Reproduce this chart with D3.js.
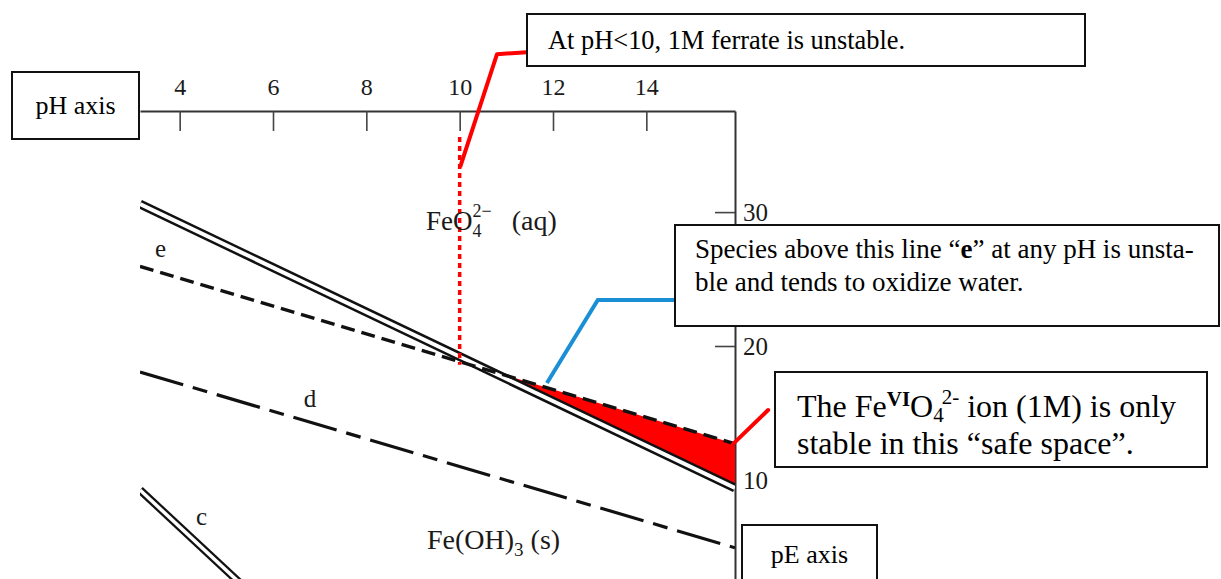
<!DOCTYPE html>
<html><head><meta charset="utf-8">
<script src="https://cdn.jsdelivr.net/npm/d3@7"></script>
<style>
html,body{margin:0;padding:0;background:#fff;}
svg{display:block;font-family:"Liberation Serif","Times New Roman",serif;}
</style></head><body>
<svg id="chart" width="1221" height="579"></svg>
<script>
// ---- data (pH, pE) ----
const pHTicks = [4, 6, 8, 10, 12, 14];
const pETicks = [10, 20, 30];
const pHDomain = [3.15, 15.9];
const pEDomain = [2.6, 37.55];
const lineFeO4 = [[3.15, 30.6], [15.9, 9.4]];    // FeO4 2- / Fe(OH)3 boundary (double line)
const lineE = [[3.15, 25.95], [15.9, 12.7]];      // water oxidation "e"
const lineD = [[3.15, 18.06], [15.9, 4.93]];      // water reduction "d"
const lineC = [[3.15, 9.25], [6.0, 0.0]];         // boundary "c" (double line)
const ph10Marker = [[10, 35.6], [10, 18.6]];
const leaderRed1 = [[10.01, 33.36], [10.80, 41.79], [11.44, 41.94]];
const leaderBlue = [[11.87, 17.24], [12.96, 23.43], [14.61, 23.43]];
const leaderRed2 = [[15.86, 12.69], [16.61, 15.22]];
const regionLabels = [
  {key: "feo4", pH: 9.28, pE: 28.66},
  {key: "feoh3", pH: 9.30, pE: 4.85},
  {key: "e", pH: 3.47, pE: 26.64},
  {key: "d", pH: 6.66, pE: 15.45},
  {key: "c", pH: 4.35, pE: 6.6}
];

const svg = d3.select("#chart");
const pL = 140, pR = 735, pT = 111, pB = 579;
const x = d3.scaleLinear().domain(pHDomain).range([pL, pR]);
const y = d3.scaleLinear().domain(pEDomain).range([pB, pT]);
const line = d3.line().x(d => x(d[0])).y(d => y(d[1]));

svg.append("defs").append("clipPath").attr("id", "plotClip")
  .append("rect").attr("x", pL).attr("y", pT).attr("width", pR - pL).attr("height", pB - pT);

// axes
const axTop = svg.append("g").attr("transform", `translate(0,${pT})`)
  .call(d3.axisTop(x).tickValues(pHTicks).tickSizeInner(-20).tickSizeOuter(0).tickPadding(16).tickFormat(d3.format("d")));
const axRight = svg.append("g").attr("transform", `translate(${pR},0)`)
  .call(d3.axisRight(y).tickValues(pETicks).tickSizeInner(-20).tickSizeOuter(0).tickPadding(8).tickFormat(d3.format("d")));
[axTop, axRight].forEach(a => {
  a.select(".domain").attr("stroke", "#333").attr("stroke-width", 2);
  a.selectAll(".tick line").attr("stroke", "#444").attr("stroke-width", 1.6);
  a.selectAll(".tick text").attr("fill", "#1a1a1a").style("font-family", "Liberation Serif, serif");
});
axTop.selectAll(".tick text").style("font-size", "24px");
axRight.selectAll(".tick text").style("font-size", "25px").attr("dy", "0.35em");

const plot = svg.append("g").attr("clip-path", "url(#plotClip)");

// red "safe space" fill between line e and FeO4 boundary
function lin(l, p) { return l[0][1] + (p - l[0][0]) * (l[1][1] - l[0][1]) / (l[1][0] - l[0][0]); }
const sE = (lineE[1][1] - lineE[0][1]) / (lineE[1][0] - lineE[0][0]);
const sF = (lineFeO4[1][1] - lineFeO4[0][1]) / (lineFeO4[1][0] - lineFeO4[0][0]);
const pHx = lineE[0][0] + (lineFeO4[0][1] - lineE[0][1]) / (sE - sF);
const safe = [pHx, pHDomain[1]];
plot.append("path")
  .attr("d", d3.area().x(p => x(p)).y0(p => y(lin(lineFeO4, p))).y1(p => y(lin(lineE, p)))(safe))
  .attr("fill", "#ff0000");

// line d
plot.append("path").attr("d", line(lineD)).attr("fill", "none")
  .attr("stroke", "#111").attr("stroke-width", 3.2).attr("stroke-dasharray", "45,10,15,10");
// double lines
[[lineFeO4, 9, 4], [lineC, 8, 3.5]].forEach(([l, w1, w2]) => {
  plot.append("path").attr("d", line(l)).attr("fill", "none").attr("stroke", "#111").attr("stroke-width", w1);
  plot.append("path").attr("d", line(l)).attr("fill", "none").attr("stroke", "#fff").attr("stroke-width", w2);
});
// line e
plot.append("path").attr("d", line(lineE)).attr("fill", "none")
  .attr("stroke", "#111").attr("stroke-width", 3.5).attr("stroke-dasharray", "14,7");

// pH 10 red dotted marker
svg.append("path").attr("d", line(ph10Marker)).attr("fill", "none")
  .attr("stroke", "#ff0000").attr("stroke-width", 3.5).attr("stroke-dasharray", "5,4");

// leaders
svg.append("path").attr("d", line(leaderRed1)).attr("fill", "none").attr("stroke", "#ff0000").attr("stroke-width", 4).attr("stroke-linejoin", "round");
svg.append("path").attr("d", line(leaderBlue)).attr("fill", "none").attr("stroke", "#1a8fd6").attr("stroke-width", 4);
svg.append("path").attr("d", line(leaderRed2)).attr("fill", "none").attr("stroke", "#ff0000").attr("stroke-width", 4).attr("stroke-linecap", "round");

// region labels
const lab = {};
regionLabels.forEach(r => lab[r.key] = r);
function at(k) { return [x(lab[k].pH), y(lab[k].pE)]; }
let p = at("feo4");
let t = svg.append("text").attr("x", p[0]).attr("y", p[1]).style("font-size", "27px").attr("fill", "#1a1a1a");
t.append("tspan").text("FeO");
t.append("tspan").attr("dy", 7).style("font-size", "18px").text("4");
t.append("tspan").attr("dx", -9).attr("dy", -20).style("font-size", "18px").text("2−");
t.append("tspan").attr("dy", 13).attr("dx", 20).style("font-size", "28px").text("(aq)");
p = at("feoh3");
t = svg.append("text").attr("x", p[0]).attr("y", p[1]).style("font-size", "28px").attr("fill", "#1a1a1a");
t.append("tspan").text("Fe(OH)");
t.append("tspan").attr("dy", 7).style("font-size", "19px").text("3");
t.append("tspan").attr("dy", -7).text(" (s)");
["e", "d", "c"].forEach(k => {
  const q = at(k);
  svg.append("text").attr("x", q[0]).attr("y", q[1]).style("font-size", "25px").attr("fill", "#1a1a1a").text(k);
});

// annotation boxes
function box(bx, by, bw, bh) {
  svg.append("rect").attr("x", bx).attr("y", by).attr("width", bw).attr("height", bh)
    .attr("fill", "#fff").attr("stroke", "#111").attr("stroke-width", 2);
}
box(12, 72, 127, 67);
svg.append("text").attr("x", 75.5).attr("y", 114).attr("text-anchor", "middle").style("font-size", "26px").text("pH axis");

box(527, 14, 558, 52);
svg.append("text").attr("x", 548).attr("y", 49).style("font-size", "26.4px").text("At pH<10, 1M ferrate is unstable.");

box(675, 225, 544, 101);
t = svg.append("text").attr("x", 695).attr("y", 258).style("font-size", "27px");
t.append("tspan").text("Species above this line “");
t.append("tspan").style("font-weight", "bold").text("e");
t.append("tspan").text("” at any pH is unsta-");
svg.append("text").attr("x", 695).attr("y", 291).style("font-size", "27px").text("ble and tends to oxidize water.");

box(775, 372, 432, 95);
t = svg.append("text").attr("x", 797).attr("y", 417).style("font-size", "32px");
t.append("tspan").text("The Fe");
t.append("tspan").attr("dy", -11).style("font-size", "21px").style("font-weight", "bold").text("VI");
t.append("tspan").attr("dy", 11).text("O");
t.append("tspan").attr("dy", 5).style("font-size", "21px").text("4");
t.append("tspan").attr("dx", -2).attr("dy", -18).style("font-size", "21px").text("2-");
t.append("tspan").attr("dy", 13).text(" ion (1M) is only");
svg.append("text").attr("x", 797).attr("y", 454).style("font-size", "32px").text("stable in this “safe space”.");

box(742, 525, 135, 70);
svg.append("text").attr("x", 809.5).attr("y", 563).attr("text-anchor", "middle").style("font-size", "26px").text("pE axis");
</script>
</body></html>
